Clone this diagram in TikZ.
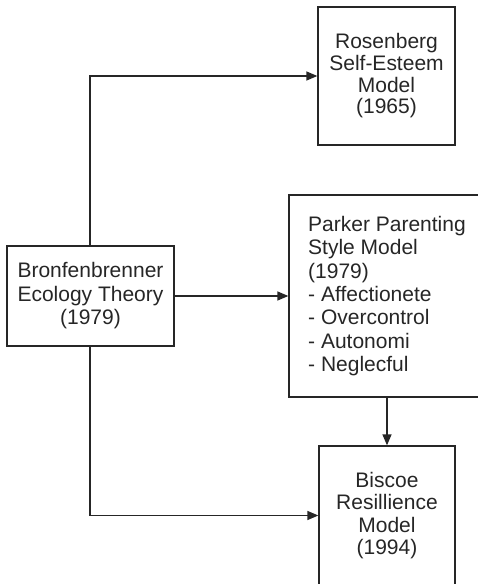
\documentclass[tikz,border=0pt]{standalone}
\usepackage{fontspec}
\setmainfont{Liberation Sans}
\usetikzlibrary{arrows.meta}
\definecolor{ink}{HTML}{262626}
\tikzset{
  box/.style={draw=ink, line width=1.3pt, inner sep=0pt, text=ink},
  conn/.style={draw=ink, line width=1.3pt, -{Triangle[length=11pt,width=9pt]}},
}
\newcommand{\fs}[1]{\fontsize{21}{#1}\selectfont}
\begin{document}
\begin{tikzpicture}[x=1pt,y=-1pt]
\useasboundingbox (0,0) rectangle (477,584);
\node[box, minimum width=167pt, minimum height=100pt, align=center, font=\fs{23.5}] (bron) at (90.5,296) {Bronfenbrenner\\Ecology Theory\\(1979)};
\node[box, minimum width=137pt, minimum height=138pt, align=center, font=\fs{21.7}] (ros) at (386.5,76) {Rosenberg\\Self-Esteem\\Model\\(1965)};
\node[box, minimum width=196pt, minimum height=202pt, align=left, font=\fs{23.3}] (par) at (387,296) {Parker Parenting\\Style Model\\(1979)\\- Affectionete\\- Overcontrol\\- Autonomi\\- Neglecful};
\node[box, minimum width=136pt, minimum height=139pt, align=center, font=\fs{22.2}] (bis) at (387,515.5) {Biscoe\\Resillience\\Model\\(1994)};
\draw[conn] (bron.north -| 90,0) |- (ros.west);
\draw[conn] (bron.east) -- (par.west);
\draw[conn] (bron.south -| 90,0) |- (bis.west);
\draw[conn] (par.south) -- (bis.north);
\end{tikzpicture}
\end{document}
